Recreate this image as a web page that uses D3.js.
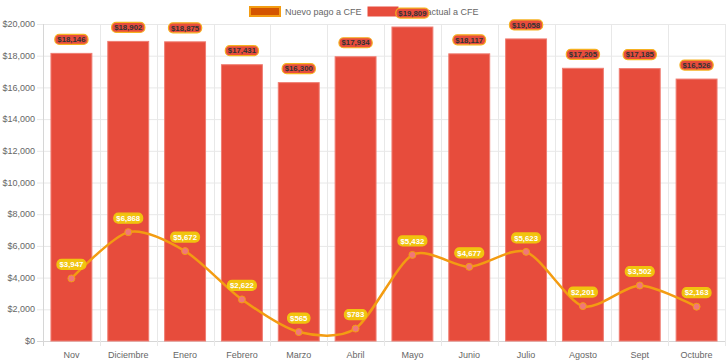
<!DOCTYPE html>
<html>
<head>
<meta charset="utf-8">
<script src="https://cdn.jsdelivr.net/npm/d3@7"></script>
<style>
  body { margin: 0; background: #fff; }
  svg { display: block; font-family: "Liberation Sans", Arial, sans-serif; }
</style>
</head>
<body>
<div id="chart"></div>
<script>
// month labels
const months = ["Nov", "Diciembre", "Enero", "Febrero", "Marzo", "Abril", "Mayo", "Junio", "Julio", "Agosto", "Sept", "Octubre"]
// current payment (bars)
const pagoActual = [18146, 18902, 18875, 17431, 16300, 17934, 19809, 18117, 19058, 17205, 17185, 16526]
// new payment (line)
const nuevoPago = [3947, 6868, 5672, 2622, 565, 783, 5432, 4677, 5623, 2201, 3502, 2163]
const yTicks = [0, 2000, 4000, 6000, 8000, 10000, 12000, 14000, 16000, 18000, 20000]
const seriesNames = ["Nuevo pago a CFE", "Pago actual a CFE"]

const W = 728, H = 363
const mLeft = 43, mRight = 725, mTop = 24, mBottom = 341

const fmt = d => "$" + d3.format(",")(d)

const svg = d3.select("#chart").append("svg")
    .attr("width", W)
    .attr("height", H)

const x = d3.scaleBand()
    .domain(months)
    .range([mLeft, mRight])
    .paddingInner(0)
    .paddingOuter(0)

const y = d3.scaleLinear()
    .domain([0, 20000])
    .range([mBottom, mTop])

const grid = svg.append("g")

// horizontal grid + y ticks
yTicks.forEach(t => {
    grid.append("line")
        .attr("x1", mLeft - 6).attr("x2", mRight)
        .attr("y1", y(t) + 0.5).attr("y2", y(t) + 0.5)
        .attr("stroke", t === 0 ? "#d6d6d6" : "#e8e8e8")
    svg.append("text")
        .attr("x", mLeft - 8)
        .attr("y", y(t))
        .attr("dy", "0.35em")
        .attr("text-anchor", "end")
        .attr("font-size", 9)
        .attr("fill", "#666")
        .text(fmt(t))
})

// vertical grid at category edges
const edges = months.map(m => x(m)).concat([mRight])
edges.forEach((e, i) => {
    grid.append("line")
        .attr("x1", Math.round(e) + 0.5).attr("x2", Math.round(e) + 0.5)
        .attr("y1", mTop).attr("y2", mBottom + 5)
        .attr("stroke", i === 0 ? "#d6d6d6" : "#e8e8e8")
})

// x labels
months.forEach(m => {
    svg.append("text")
        .attr("x", x(m) + x.bandwidth() / 2)
        .attr("y", 355)
        .attr("dy", "0.35em")
        .attr("text-anchor", "middle")
        .attr("font-size", 9)
        .attr("fill", "#666")
        .text(m)
})

// bars
const bw = x.bandwidth() * 0.72
svg.selectAll(".bar")
    .data(pagoActual)
    .join("rect")
    .attr("class", "bar")
    .attr("x", (d, i) => x(months[i]) + (x.bandwidth() - bw) / 2)
    .attr("y", d => y(d))
    .attr("width", bw)
    .attr("height", d => mBottom - y(d))
    .attr("fill", "#e74c3c")
    .attr("stroke", "#ef7d72")
    .attr("stroke-width", 1)

// line
const cx = i => x(months[i]) + x.bandwidth() / 2
const line = d3.line()
    .x((d, i) => cx(i))
    .y(d => y(d))
    .curve(d3.curveCardinal.tension(0.2))

svg.append("path")
    .datum(nuevoPago)
    .attr("d", line)
    .attr("fill", "none")
    .attr("stroke", "#f39c12")
    .attr("stroke-width", 2.5)

svg.selectAll(".pt")
    .data(nuevoPago)
    .join("circle")
    .attr("class", "pt")
    .attr("cx", (d, i) => cx(i))
    .attr("cy", d => y(d))
    .attr("r", 3.5)
    .attr("fill", "#f1777a")
    .attr("stroke", "#f39c12")
    .attr("stroke-width", 1)

// value label helper
function label(g, cxv, cyv, txt, fill, stroke, color) {
    const grp = g.append("g")
    const rect = grp.append("rect")
    const t = grp.append("text")
        .attr("x", cxv)
        .attr("y", cyv)
        .attr("dy", "0.35em")
        .attr("text-anchor", "middle")
        .attr("font-size", 7.8)
        .attr("font-weight", "bold")
        .attr("fill", color)
        .text(txt)
    const w = t.node().getComputedTextLength() + 5
    const h = 10
    rect.attr("x", cxv - w / 2).attr("y", cyv - h / 2)
        .attr("width", w).attr("height", h)
        .attr("rx", 4.5).attr("ry", 4.5)
        .attr("fill", fill)
        .attr("stroke", stroke)
        .attr("stroke-width", 1.2)
}

// legend
const legend = svg.append("g")
legend.append("rect").attr("x", 250).attr("y", 7).attr("width", 30).attr("height", 9)
    .attr("fill", "#d35400").attr("stroke", "#f39c12").attr("stroke-width", 2)
legend.append("text").attr("x", 285).attr("y", 11.5).attr("dy", "0.35em")
    .attr("font-size", 9).attr("fill", "#666").text(seriesNames[0])
legend.append("rect").attr("x", 368).attr("y", 7).attr("width", 30).attr("height", 9)
    .attr("fill", "#e74c3c").attr("stroke", "#e74c3c").attr("stroke-width", 1)
legend.append("text").attr("x", 403).attr("y", 11.5).attr("dy", "0.35em")
    .attr("font-size", 9).attr("fill", "#666").text(seriesNames[1])

const labels = svg.append("g")
pagoActual.forEach((d, i) => {
    label(labels, cx(i), y(d) - 14, fmt(d), "#e74c3c", "#f5b120", "#333")
})
nuevoPago.forEach((d, i) => {
    label(labels, cx(i), y(d) - 14, fmt(d), "#f1c40f", "#f1c40f", "#fff")
})
</script>
</body>
</html>
